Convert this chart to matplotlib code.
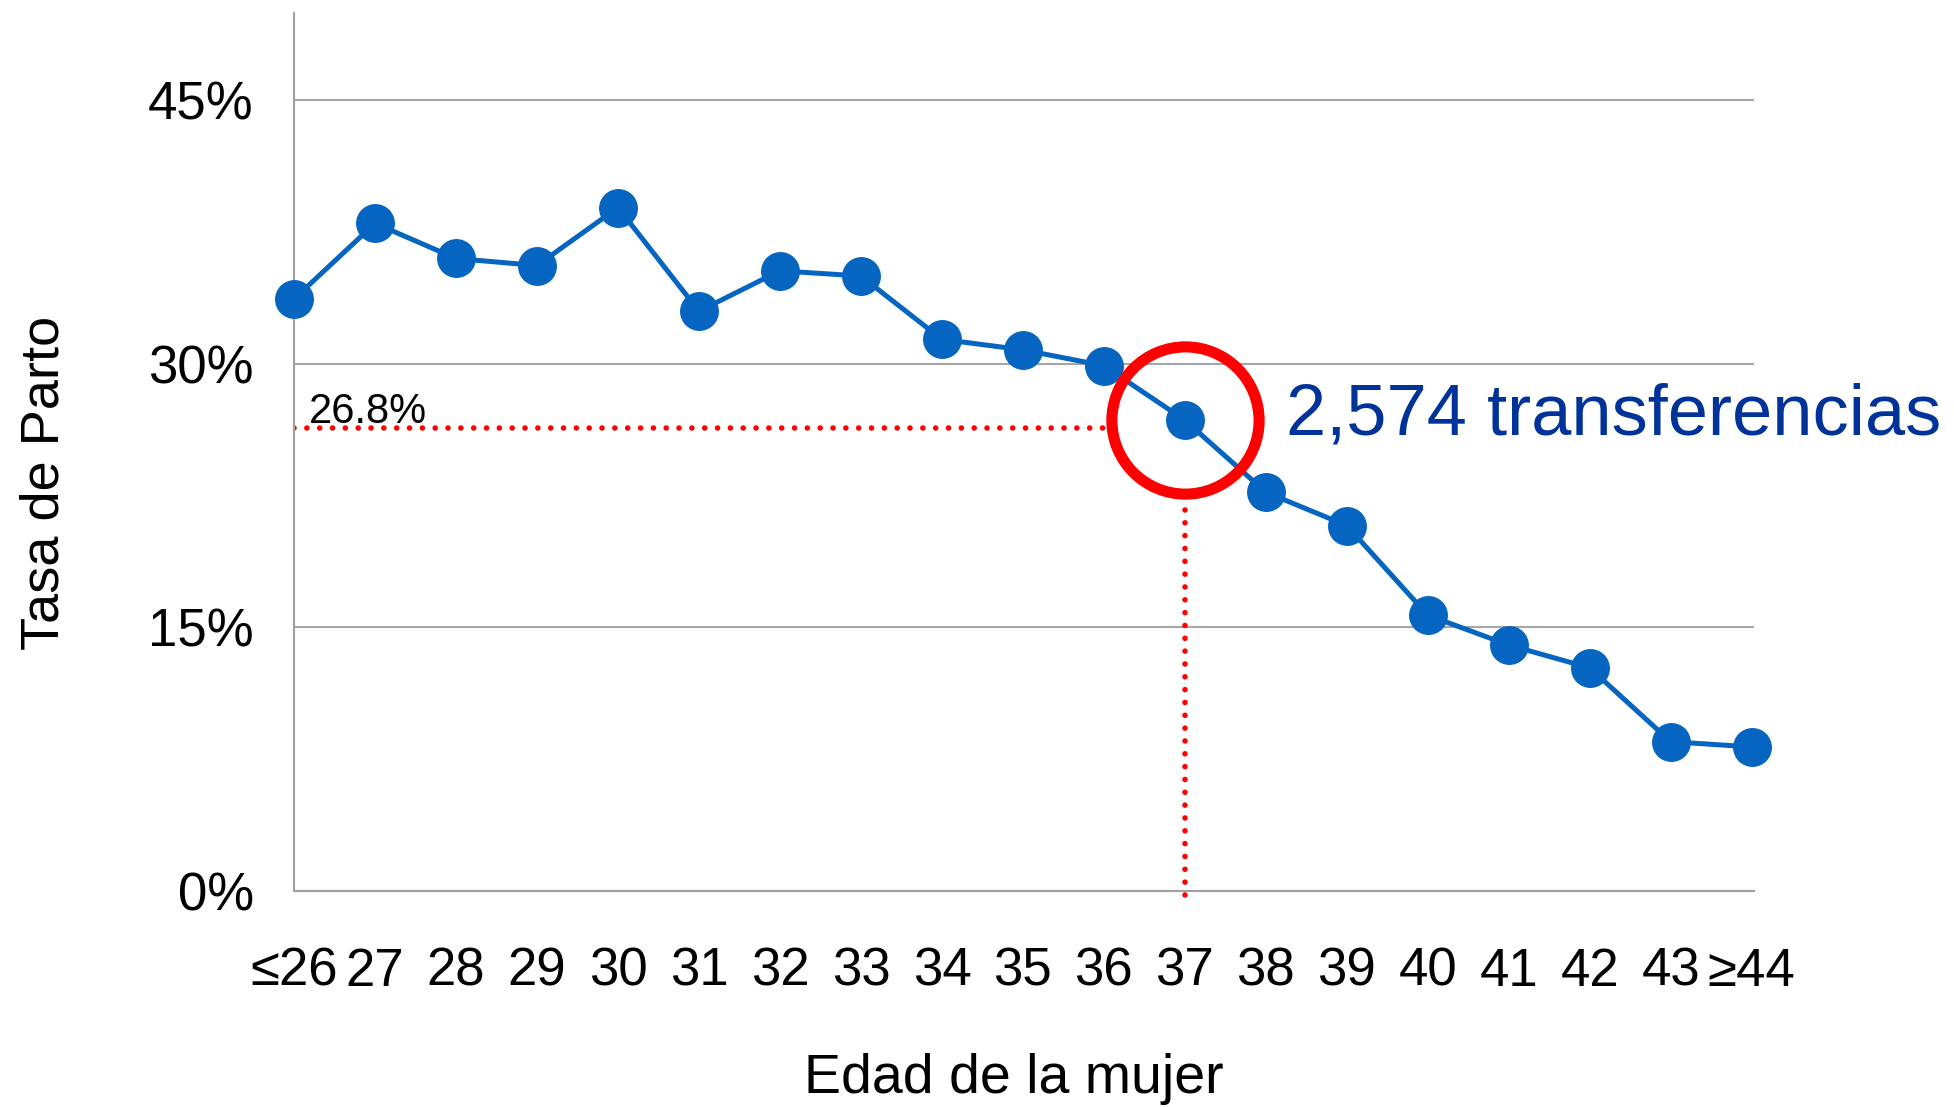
import matplotlib
matplotlib.use("Agg")
import matplotlib.pyplot as plt
from matplotlib.ticker import FuncFormatter

# datos
edades = ["≤26", "27", "28", "29", "30", "31", "32", "33", "34", "35",
          "36", "37", "38", "39", "40", "41", "42", "43", "≥44"]
tasa_parto = [33.7, 38.0, 36.0, 35.6, 38.9, 33.0, 35.3, 35.0, 31.4, 30.8,
              29.9, 26.8, 22.7, 20.8, 15.7, 14.0, 12.7, 8.5, 8.2]
y_ticks = [0, 15, 30, 45]
edad_marcada = "37"
n_transferencias = "2,574"

plt.rcParams['font.family'] = ['Liberation Sans', 'DejaVu Sans']

fig = plt.figure(figsize=(19.54, 11.07), dpi=100)
ax = fig.add_axes([0.1505, 0.1951, 0.7472, 0.7936])

x = list(range(len(edades)))
ax.plot(x, tasa_parto, color="#0565C0", lw=3.6, marker="o", ms=27,
        clip_on=False, zorder=3)

ax.set_xlim(0, len(edades) - 1 + 0.03)
ax.set_ylim(0, 50)
ax.set_yticks(y_ticks)
ax.yaxis.set_major_formatter(FuncFormatter(lambda v, p: f"{v:.0f}%"))
ax.set_xticks(x)
ax.set_xticklabels(edades)
ax.tick_params(axis="y", length=0, pad=29, labelsize=38)
ax.tick_params(axis="x", length=0, pad=40, labelsize=38)

ax.grid(axis="y", color="#A6A6A6", lw=1.5)
ax.set_axisbelow(True)
for s in ["top", "right"]:
    ax.spines[s].set_visible(False)
for s in ["left", "bottom"]:
    ax.spines[s].set_color("#A0A0A0")
    ax.spines[s].set_linewidth(1.5)

ax.set_xlabel("Edad de la mujer", fontsize=40)
ax.xaxis.label.set_va("center")
ax.xaxis.set_label_coords(0.493, -0.214)
ax.set_ylabel("Tasa de Parto", fontsize=39)
ax.yaxis.label.set_va("center")
ax.yaxis.set_label_coords(-0.171, 0.465)

# resaltar la edad marcada
i = edades.index(edad_marcada)
v = tasa_parto[i]
ax.plot(i, v, "o", ms=106, mfc="none", mec="#FF0000", mew=8, zorder=4,
        clip_on=False)
ax.plot([0, i - 0.98], [v - 0.45, v - 0.45], color="#FF0000", lw=4,
        linestyle=(0, (0.01, 2.3)), dash_capstyle="round", zorder=2)
ax.plot([i, i], [-0.25, v - 4.5], color="#FF0000", lw=4,
        linestyle=(0, (0.01, 2.3)), dash_capstyle="round", zorder=2,
        clip_on=False)
ax.text(0.18, v - 0.15, f"{v:.1f}%", fontsize=30, va="baseline", ha="left")
ax.text(i + 1.25, v + 0.25, f"{n_transferencias} transferencias",
        fontsize=52, color="#003399", va="center", ha="left")

fig.savefig("out.png", dpi=100)
